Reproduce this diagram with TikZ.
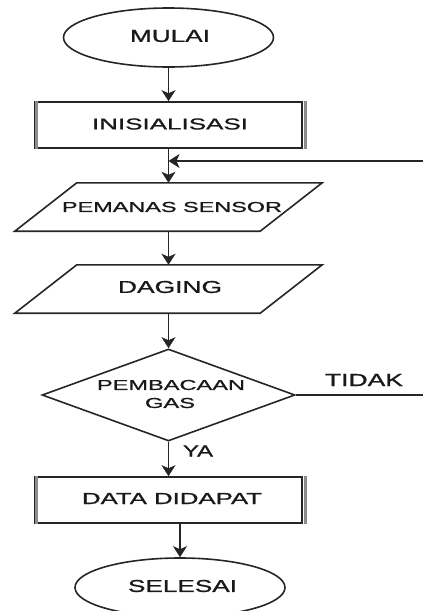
\documentclass[tikz,border=0pt]{standalone}
\usepackage{fontspec}
\setmainfont{Liberation Sans}
\newfontfamily\fcfont{Liberation Sans}[BoldFont={Liberation Sans},BoldFeatures={FakeBold=0.9}]
\usepackage{graphicx}
\usetikzlibrary{shapes.geometric,arrows.meta}
\newcommand{\fitt}[3]{\resizebox{#1pt}{#2pt}{\fcfont\bfseries #3}}
\begin{document}
\begin{tikzpicture}[x=1pt,y=-1pt,
  fcline/.style={line width=1.6pt, draw=black!85},
  arr/.style={fcline, -{Stealth[length=11pt,width=14pt,inset=3pt]}},
  term/.style={ellipse, fcline, minimum width=210pt, minimum height=59pt, inner sep=0pt},
  proc/.style={rectangle, fcline, minimum width=267pt, minimum height=46pt, inner sep=0pt},
  iobox/.style={rectangle, minimum width=245pt, minimum height=48pt, inner sep=0pt},
  sidebar/.style={draw=black!45, line width=2.5pt},
  txt/.style={inner sep=0pt, text=black!90, anchor=center}
]
\useasboundingbox (0,0) rectangle (423,611);

% shapes
\node[term] (mulai) at (168.5,37.5) {};
\node[proc] (init) at (168.5,125) {};
\node[iobox] (p1) at (168.5,207) {};
\node[iobox] (p2) at (168.5,289) {};
\node[diamond, fcline, minimum width=253pt, minimum height=92pt, inner sep=0pt] (dec) at (168.5,395) {};
\node[proc] (data) at (168.5,500) {};
\node[term] (selesai) at (180,587.5) {};

% parallelograms
\foreach \p in {p1,p2}{
  \draw[fcline] ([xshift=-31pt]\p.south west) -- ([xshift=31pt]\p.north west)
     -- ([xshift=31pt]\p.north east) -- ([xshift=-31pt]\p.south east) -- cycle;
}

% side bars of process boxes
\foreach \r in {init,data}{
  \draw[sidebar] ([xshift=2.5pt]\r.north west) -- ([xshift=2.5pt]\r.south west);
  \draw[sidebar] ([xshift=2.5pt]\r.north east) -- ([xshift=2.5pt]\r.south east);
}

% texts
\node[txt] (tmulai) at (170,36) {\fitt{80}{12}{MULAI}};
\node[txt] (tinit) at (170,124) {\fitt{156}{11}{INISIALISASI}};
\node[txt] (tp1) at (172,207) {\fitt{220}{10}{PEMANAS SENSOR}};
\node[txt] (tp2) at (170,287) {\fitt{104}{12}{DAGING}};
\node[txt] (tdec1) at (171,385) {\fitt{148}{10}{PEMBACAAN}};
\node[txt] (tdec2) at (170,403) {\fitt{50}{10}{GAS}};
\node[txt] (tdata) at (172,498.5) {\fitt{180}{11}{DATA DIDAPAT}};
\node[txt] (tsel) at (182.5,586) {\fitt{109}{12}{SELESAI}};

% connectors
\coordinate (fb) at (423,161);
\coordinate (tend) at (423,395);
\draw[arr] (mulai.south) -- (init.north);
\draw[arr] (init.south) -- (p1.north);
\draw[arr] (fb) -- (fb -| init.south);
\draw[arr] (p1.south) -- (p2.north);
\draw[arr] (p2.south) -- (dec.north);
\draw[arr] (dec.south) -- (data.north);
\draw[fcline] (dec.east) -- (tend);
\draw[arr] (selesai.north |- data.south) -- (selesai.north);

% connector labels
\node[txt] (lya) at (198,451) {\fitt{30}{11}{YA}};
\node[txt] (ltidak) at (364,380) {\fitt{78}{12}{TIDAK}};
\end{tikzpicture}
\end{document}
